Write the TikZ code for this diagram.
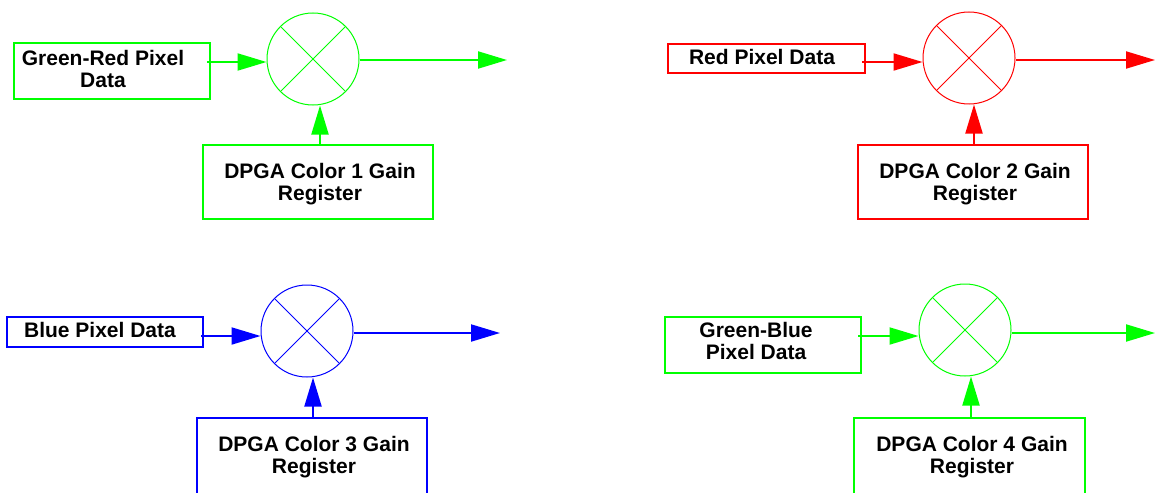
\documentclass[tikz,border=0pt]{standalone}
\usepackage{fontspec}
\setmainfont{Liberation Sans}
\usetikzlibrary{arrows.meta}
\definecolor{gn}{RGB}{0,255,0}
\definecolor{rd}{RGB}{255,0,0}
\definecolor{bl}{RGB}{0,0,255}
\begin{document}
\begin{tikzpicture}[x=1pt,y=-1pt,
  box/.style={draw, line width=2pt, rectangle, inner sep=0pt},
  mult/.style={draw, circle, line width=1pt, minimum size=92pt, inner sep=0pt},
  lbl/.style={font=\bfseries\fontsize{21}{22.5}\selectfont, align=center, inner sep=0pt, text=black},
  arr/.style={line width=2pt, -{Triangle[length=29pt,width=17pt]}},
  crossline/.style={line width=1pt}]
\useasboundingbox (0,0) rectangle (1155,492);

% Panel 1 (green-red)
\begin{scope}[color=gn]
\node[mult] (c1) at (313,59) {};
\draw[crossline] (c1.north west) -- (c1.south east) (c1.north east) -- (c1.south west);
\node[box, minimum width=196pt, minimum height=56pt] (d1) at (112,71) {};
\node[lbl] (t1) at (103,69) {Green-Red Pixel\\Data};
\coordinate (s1) at (207,62);
\draw[arr] (s1) -- (s1 -| c1.west);
\coordinate (o1) at (507,60);
\draw[arr] (c1.east |- o1) -- (o1);
\node[box, minimum width=230pt, minimum height=74pt] (g1) at (318,182) {};
\node[lbl] (tg1) at (320,184) {DPGA Color 1 Gain\\Register};
\coordinate (u1) at (320,145);
\draw[arr] (u1) -- (u1 |- c1.south);
\end{scope}

% Panel 2 (red)
\begin{scope}[color=rd]
\node[mult] (c2) at (969,58) {};
\draw[crossline] (c2.north west) -- (c2.south east) (c2.north east) -- (c2.south west);
\node[box, minimum width=197pt, minimum height=29pt] (d2) at (766.5,58.5) {};
\node[lbl] (t2) at (762,57) {Red Pixel Data};
\coordinate (s2) at (862,62);
\draw[arr] (s2) -- (s2 -| c2.west);
\coordinate (o2) at (1155,60);
\draw[arr] (c2.east |- o2) -- (o2);
\node[box, minimum width=230pt, minimum height=74pt] (g2) at (973,182) {};
\node[lbl] (tg2) at (975,184) {DPGA Color 2 Gain\\Register};
\coordinate (u2) at (974,145);
\draw[arr] (u2) -- (u2 |- c2.south);
\end{scope}

% Panel 3 (blue)
\begin{scope}[color=bl]
\node[mult] (c3) at (307,331) {};
\draw[crossline] (c3.north west) -- (c3.south east) (c3.north east) -- (c3.south west);
\node[box, minimum width=196pt, minimum height=30pt] (d3) at (105,332) {};
\node[lbl] (t3) at (100,330) {Blue Pixel Data};
\coordinate (s3) at (201,336);
\draw[arr] (s3) -- (s3 -| c3.west);
\coordinate (o3) at (500,333);
\draw[arr] (c3.east |- o3) -- (o3);
\node[box, minimum width=230pt, minimum height=78pt] (g3) at (312,457) {};
\node[lbl] (tg3) at (314,457) {DPGA Color 3 Gain\\Register};
\coordinate (u3) at (313,418);
\draw[arr] (u3) -- (u3 |- c3.south);
\end{scope}

% Panel 4 (green-blue)
\begin{scope}[color=gn]
\node[mult] (c4) at (965,330) {};
\draw[crossline] (c4.north west) -- (c4.south east) (c4.north east) -- (c4.south west);
\node[box, minimum width=196pt, minimum height=56pt] (d4) at (763,345) {};
\node[lbl] (t4) at (756,341) {Green-Blue\\Pixel Data};
\coordinate (s4) at (858,336);
\draw[arr] (s4) -- (s4 -| c4.west);
\coordinate (o4) at (1155,333);
\draw[arr] (c4.east |- o4) -- (o4);
\node[box, minimum width=231pt, minimum height=78pt] (g4) at (969.5,457) {};
\node[lbl] (tg4) at (972,457) {DPGA Color 4 Gain\\Register};
\coordinate (u4) at (971,418);
\draw[arr] (u4) -- (u4 |- c4.south);
\end{scope}
\end{tikzpicture}
\end{document}
